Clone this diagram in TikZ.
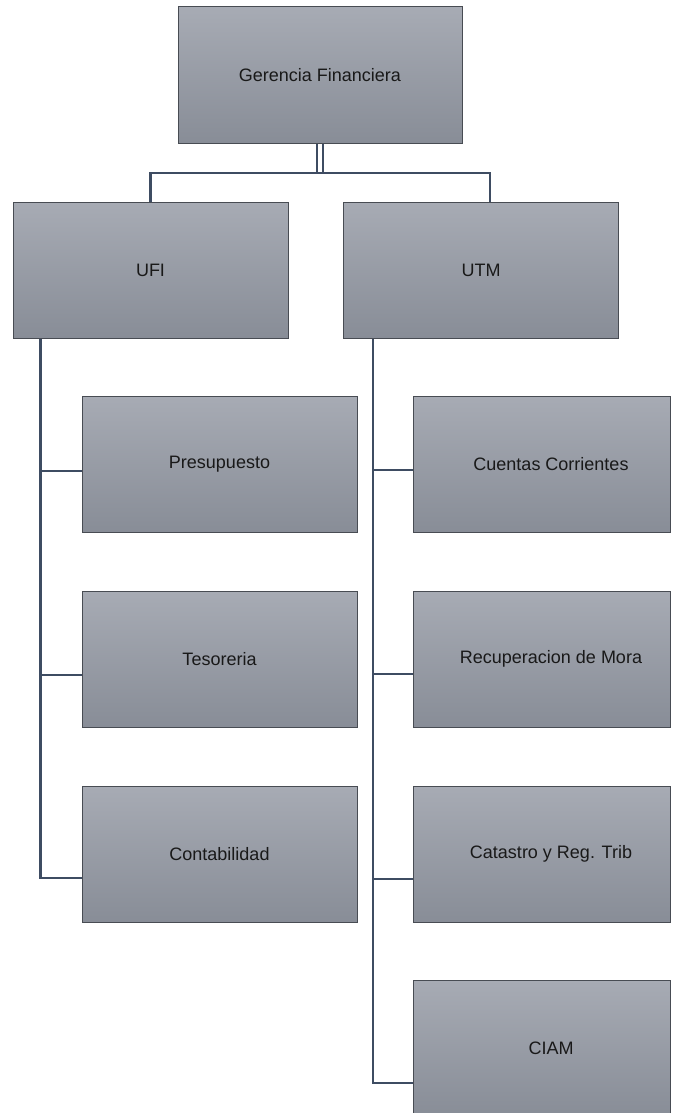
\documentclass[tikz,border=0pt]{standalone}
\usepackage{fontspec}
\setmainfont{Liberation Sans}
\usetikzlibrary{calc}
\definecolor{boxtop}{RGB}{167,171,180}
\definecolor{boxbot}{RGB}{136,141,151}
\definecolor{boxedge}{RGB}{72,76,83}
\definecolor{linec}{RGB}{62,76,98}
\tikzset{
  orgbox/.style={draw=boxedge, line width=1pt, top color=boxtop, bottom color=boxbot,
    minimum height=136pt, inner sep=0pt, font=\fontsize{18}{21}\selectfont, text=black!90},
  topbox/.style={orgbox, minimum width=284pt},
  midbox/.style={orgbox, minimum width=275pt},
  leftbox/.style={orgbox, minimum width=275pt},
  rightbox/.style={orgbox, minimum width=257pt, execute at begin node={\hspace*{19pt}}},
  conn/.style={draw=linec, line width=2.6pt},
  thinconn/.style={draw=linec, line width=2pt},
}
\begin{document}
\begin{tikzpicture}[x=1pt,y=-1pt]
\useasboundingbox (0,0) rectangle (674,1113);
\node[topbox] (ger) at (320,75) {Gerencia Financiera};
\node[midbox] (ufi) at (150.5,270) {UFI};
\node[midbox] (utm) at (481,270) {UTM};
\node[leftbox] (pres) at (219.5,464) {Presupuesto};
\node[leftbox] (teso) at (219.5,659) {Tesoreria};
\node[leftbox] (cont) at (219.5,854) {Contabilidad};
\node[rightbox] (cuen) at (541.5,464) {Cuentas Corrientes};
\node[rightbox] (recu) at (541.5,659) {Recuperacion de Mora};
\node[rightbox] (cata) at (541.5,854) {Catastro y Reg. Trib};
\node[rightbox] (ciam) at (541.5,1048) {CIAM};
% top connectors
\coordinate (bar) at (320,173);
\coordinate (utmtop) at ($(utm.north)+(9,0)$);
\draw[thinconn] ($(ger.south)+(-3,0)$) -- ($(bar)+(-3,0)$);
\draw[thinconn] ($(ger.south)+(3,0)$) -- ($(bar)+(3,0)$);
\draw[conn] (ufi.north) |- (bar) -| (utmtop);
% left spine
\coordinate (ls) at ($(ufi.south west)+(28,0)$);
\coordinate (lp) at ($(pres.west)+(0,7)$);
\coordinate (lt) at ($(teso.west)+(0,16)$);
\coordinate (lc) at ($(cont.west)+(0,24)$);
\draw[conn] (ls) |- (lc);
\draw[conn] (ls |- lp) -- (lp);
\draw[conn] (ls |- lt) -- (lt);
% right spine
\coordinate (rs) at ($(utm.south west)+(30,0)$);
\coordinate (rc) at ($(cuen.west)+(0,6)$);
\coordinate (rr) at ($(recu.west)+(0,15)$);
\coordinate (rk) at ($(cata.west)+(0,25)$);
\coordinate (ri) at ($(ciam.west)+(0,35)$);
\draw[conn] (rs) |- (ri);
\draw[conn] (rs |- rc) -- (rc);
\draw[conn] (rs |- rr) -- (rr);
\draw[conn] (rs |- rk) -- (rk);
\end{tikzpicture}
\end{document}
